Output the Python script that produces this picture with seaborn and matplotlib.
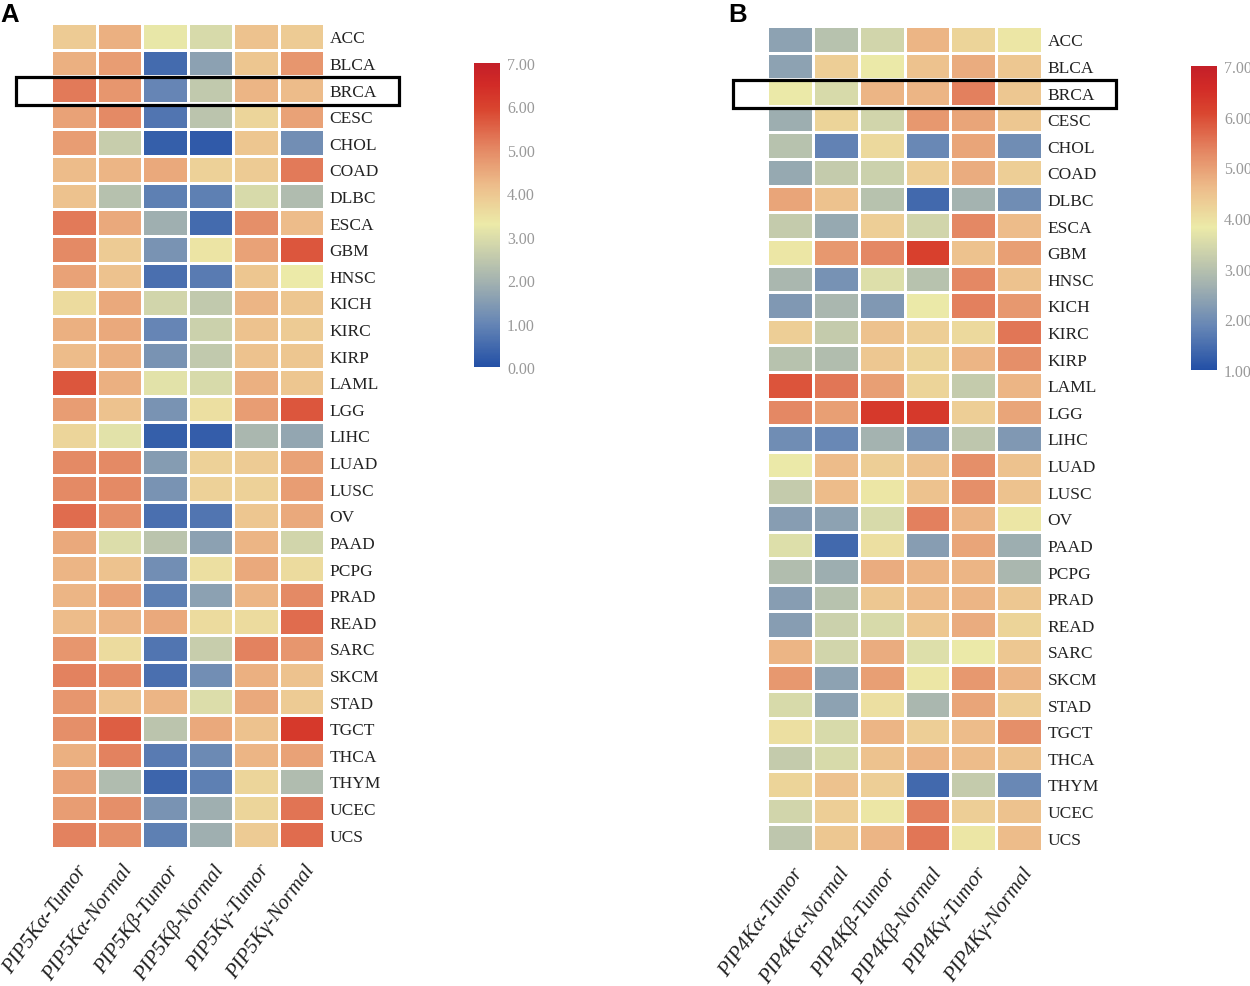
import pandas as pd
import matplotlib
matplotlib.use("Agg")
import matplotlib.pyplot as plt
import seaborn as sns
from matplotlib.colors import LinearSegmentedColormap
from matplotlib.patches import Rectangle

sns.set_style("white")
plt.rcParams["font.family"] = ["Liberation Serif", "DejaVu Serif"]

cancers = ["ACC", "BLCA", "BRCA", "CESC", "CHOL", "COAD", "DLBC", "ESCA", "GBM", "HNSC", "KICH",
           "KIRC", "KIRP", "LAML", "LGG", "LIHC", "LUAD", "LUSC", "OV", "PAAD", "PCPG", "PRAD",
           "READ", "SARC", "SKCM", "STAD", "TGCT", "THCA", "THYM", "UCEC", "UCS"]

pip5k_labels = ["PIP5Kα-Tumor", "PIP5Kα-Normal", "PIP5Kβ-Tumor", "PIP5Kβ-Normal", "PIP5Kγ-Tumor", "PIP5Kγ-Normal"]
pip4k_labels = ["PIP4Kα-Tumor", "PIP4Kα-Normal", "PIP4Kβ-Tumor", "PIP4Kβ-Normal", "PIP4Kγ-Tumor", "PIP4Kγ-Normal"]

pip5k_values = [
    [3.9, 4.4, 3.2, 2.9, 4.1, 3.9],
    [4.4, 4.7, 0.5, 1.6, 4.0, 4.8],
    [5.2, 4.8, 1.0, 2.5, 4.3, 4.2],
    [4.6, 5.0, 0.7, 2.4, 3.7, 4.6],
    [4.7, 2.6, 0.3, 0.2, 4.0, 1.2],
    [4.2, 4.3, 4.5, 3.8, 3.9, 5.2],
    [4.1, 2.3, 0.9, 0.9, 2.9, 2.2],
    [5.2, 4.5, 1.9, 0.5, 4.9, 4.2],
    [5.0, 3.9, 1.3, 3.4, 4.6, 5.7],
    [4.6, 4.1, 0.6, 0.8, 4.0, 3.3],
    [3.6, 4.5, 2.8, 2.5, 4.3, 4.0],
    [4.4, 4.5, 1.0, 2.7, 4.1, 3.9],
    [4.2, 4.4, 1.3, 2.5, 4.1, 4.0],
    [5.7, 4.4, 3.1, 2.9, 4.4, 4.0],
    [4.7, 4.1, 1.3, 3.5, 4.7, 5.7],
    [3.7, 3.1, 0.3, 0.25, 2.1, 1.7],
    [5.0, 5.0, 1.5, 3.8, 3.9, 4.6],
    [5.0, 5.0, 1.3, 3.8, 3.8, 4.7],
    [5.4, 4.9, 0.6, 0.7, 4.0, 4.5],
    [4.5, 3.0, 2.4, 1.6, 4.3, 2.8],
    [4.3, 4.1, 1.2, 3.5, 4.5, 3.6],
    [4.3, 4.6, 0.9, 1.6, 4.3, 5.0],
    [4.2, 4.3, 4.5, 3.6, 3.6, 5.4],
    [4.8, 3.6, 0.7, 2.6, 5.1, 4.8],
    [5.1, 5.0, 0.6, 1.2, 4.4, 4.1],
    [4.8, 4.1, 4.3, 3.0, 4.5, 3.9],
    [4.9, 5.6, 2.4, 4.5, 4.1, 6.2],
    [4.4, 5.1, 0.8, 1.1, 4.3, 4.6],
    [4.6, 2.2, 0.4, 0.9, 3.7, 2.2],
    [4.7, 4.9, 1.3, 1.9, 3.7, 5.3],
    [5.1, 4.9, 0.9, 1.9, 3.9, 5.4],
]

pip4k_values = [
    [2.4, 3.0, 3.4, 4.7, 4.2, 3.9],
    [2.4, 4.3, 3.8, 4.5, 4.8, 4.4],
    [3.8, 3.5, 4.7, 4.7, 5.4, 4.4],
    [2.6, 4.2, 3.4, 5.1, 4.9, 4.4],
    [3.0, 1.8, 4.1, 1.9, 4.9, 2.0],
    [2.5, 3.2, 3.3, 4.3, 4.8, 4.3],
    [4.9, 4.5, 3.0, 1.4, 2.7, 2.0],
    [3.2, 2.5, 4.3, 3.4, 5.3, 4.6],
    [3.9, 5.1, 5.3, 6.2, 4.5, 5.0],
    [2.8, 2.1, 3.6, 3.0, 5.3, 4.5],
    [2.2, 2.8, 2.2, 3.8, 5.4, 5.1],
    [4.3, 3.2, 4.5, 4.3, 4.1, 5.5],
    [3.0, 2.9, 4.4, 4.2, 4.7, 5.2],
    [5.9, 5.5, 5.0, 4.2, 3.2, 4.7],
    [5.3, 5.0, 6.3, 6.3, 4.3, 4.9],
    [2.0, 1.9, 2.7, 2.1, 3.1, 2.2],
    [3.8, 4.6, 4.3, 4.5, 5.2, 4.5],
    [3.2, 4.6, 3.9, 4.5, 5.2, 4.5],
    [2.3, 2.4, 3.5, 5.4, 4.7, 3.9],
    [3.6, 1.4, 4.0, 2.3, 4.9, 2.6],
    [2.9, 2.6, 4.8, 4.7, 4.7, 2.8],
    [2.3, 3.0, 4.4, 4.6, 4.7, 4.4],
    [2.3, 3.3, 3.5, 4.4, 4.8, 4.2],
    [4.7, 3.4, 4.8, 3.6, 3.8, 4.4],
    [5.1, 2.4, 5.0, 3.9, 5.1, 4.7],
    [3.5, 2.4, 4.0, 2.8, 4.9, 4.3],
    [4.0, 3.5, 4.7, 4.3, 4.6, 5.2],
    [3.2, 3.5, 4.5, 4.7, 4.6, 4.5],
    [4.2, 4.5, 4.3, 1.4, 3.2, 1.9],
    [3.4, 4.3, 3.9, 5.4, 4.3, 4.5],
    [3.1, 4.4, 4.7, 5.5, 3.9, 4.6],
]

cmap = LinearSegmentedColormap.from_list("rdylbu_soft", [
    (0.00, "#2350A6"), (0.14, "#6585B5"), (0.28, "#A3B2B0"), (0.47, "#ECEAA8"),
    (0.60, "#EDBC8A"), (0.72, "#E48763"), (0.85, "#D9452F"), (0.93, "#D22B27"), (1.00, "#C41F28"),
])

W, H = 1250, 987


def px_axes(fig, left, top, right, bottom):
    return fig.add_axes([left / W, 1 - bottom / H, (right - left) / W, (bottom - top) / H])


def draw_panel(fig, values, labels, vmin, vmax, box, cbar_box, frame, letter, letter_x):
    df = pd.DataFrame(values, index=cancers, columns=labels)
    ax = px_axes(fig, *box)
    cax = px_axes(fig, *cbar_box)
    sns.heatmap(df, ax=ax, cbar_ax=cax, cmap=cmap, vmin=vmin, vmax=vmax,
                linewidths=1.0, linecolor="white", cbar_kws={"format": "%.2f"})
    ax.yaxis.tick_right()
    ax.tick_params(axis="both", length=0)
    ax.tick_params(axis="y", pad=4)
    ax.tick_params(axis="x", pad=9)
    ax.set_yticks(ax.get_yticks(), cancers, rotation=0, fontsize=12.5, color="#222222")
    ax.set_xticks(ax.get_xticks() + 0.05, labels, rotation=54, ha="right", rotation_mode="anchor",
                  fontsize=15, style="italic", color="#222222")
    ax.set_xlabel("")
    ax.set_ylabel("")

    cax.tick_params(length=0, labelsize=11.5, labelcolor="#999999", pad=5)
    cax.set_yticks(range(vmin, vmax + 1))
    ax.collections[0].colorbar.outline.set_visible(False)

    x0, y0, x1, y1 = frame
    fig.add_artist(Rectangle((x0 / W, 1 - y1 / H), (x1 - x0) / W, (y1 - y0) / H, transform=fig.transFigure,
                             fill=False, edgecolor="black", linewidth=2.3))
    fig.text(letter_x / W, 1 - 22 / H, letter, fontsize=18.5, fontweight="bold", family="Liberation Sans",
             color="black")


fig = plt.figure(figsize=(W / 100, H / 100), dpi=100, facecolor="white")

draw_panel(fig, pip5k_values, pip5k_labels, 0, 7, (51, 24, 324, 849), (474, 64, 500, 368),
           (16, 78, 399, 106), "A", 0)
draw_panel(fig, pip4k_values, pip4k_labels, 1, 7, (767, 27, 1042, 852), (1191, 67, 1217, 371),
           (733, 81, 1116, 109), "B", 728)

fig.savefig("out.png", dpi=100)
